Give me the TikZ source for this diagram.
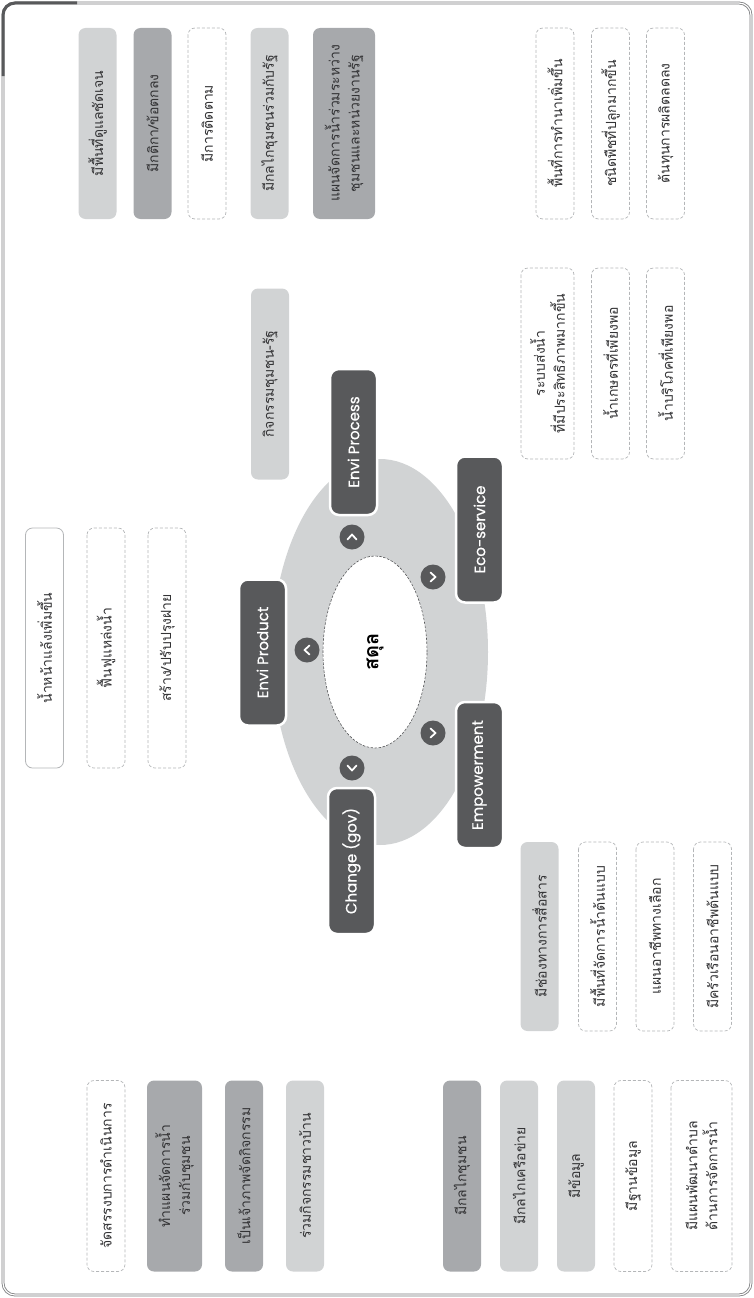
\documentclass[tikz,border=0pt]{standalone}
\usepackage{fontspec}
\usetikzlibrary{shapes.geometric}
\newfontfamily\thaifont[Script=Thai]{Loma}
\newfontfamily\enfont[FakeBold=0.6]{Poppins}
\definecolor{lgray}{HTML}{D1D3D4}
\definecolor{mgray}{HTML}{A7A9AC}
\definecolor{dkgray}{HTML}{58595B}
\definecolor{txt}{HTML}{333335}
\definecolor{dline}{HTML}{B4B6B8}
\definecolor{framec}{HTML}{7A7B7D}
\tikzset{
  basebox/.style={rotate=90, rounded corners=7pt, minimum width=191pt, minimum height=38pt, inner sep=0pt, align=center, text=txt, font=\thaifont\fontsize{14}{20}\selectfont},
  lbox/.style={basebox, fill=lgray},
  mbox/.style={basebox, fill=mgray},
  dbox/.style={basebox, fill=white, draw=dline, line width=0.7pt, dash pattern=on 3pt off 2pt},
  sbox/.style={basebox, fill=white, draw=dline, line width=0.8pt},
  enode/.style={rotate=90, rounded corners=9pt, fill=dkgray, draw=white, line width=2.5pt, minimum width=146pt, minimum height=47pt, inner sep=0pt, text=white, font=\enfont\fontsize{15}{18}\selectfont},
  chev/.style={circle, fill=dkgray, minimum size=25pt, inner sep=0pt},
  chevline/.style={white, line width=1.8pt, line cap=round, line join=round},
}
\begin{document}
\begin{tikzpicture}[x=1pt, y=-1pt]
\useasboundingbox (0,0) rectangle (754,1298);
% frame
\draw[framec, line width=0.8pt, double=white, double distance=1.2pt, rounded corners=12pt] (3,3) rectangle (751,1295);
\draw[dkgray, line width=3pt] (3,76) -- (3,15) arc[start angle=180, end angle=270, radius=12] -- (77,3);

% top-left column group
\node[lbox] (b1) at (97.5,123.5) {มีพื้นที่ดูแลชัดเจน};
\node[mbox] (b2) at (152.5,123.5) {มีกติกา/ข้อตกลง};
\node[dbox] (b3) at (207,123.5) {มีการติดตาม};
\node[lbox] (b4) at (269.5,123.5) {มีกลไกชุมชนร่วมกับรัฐ};
\node[mbox, minimum height=62pt] (b5) at (344,123.5) {แผนจัดการน้ำร่วมระหว่าง\\ชุมชนและหน่วยงานรัฐ};
\node[lbox] (b6) at (270,384) {กิจกรรมชุมชน-รัฐ};

% top-right
\node[dbox] (r1) at (555,123.5) {พื้นที่การทำนาเพิ่มขึ้น};
\node[dbox] (r2) at (610.5,123.5) {ชนิดพืชที่ปลูกมากขึ้น};
\node[dbox] (r3) at (665.5,123.5) {ต้นทุนการผลิตลดลง};
\node[dbox, minimum height=53pt] (r4) at (547.5,363.5) {ระบบส่งน้ำ\\ที่มีประสิทธิภาพมากขึ้น};
\node[dbox] (r5) at (610.5,363.5) {น้ำเกษตรที่เพียงพอ};
\node[dbox] (r6) at (665.5,363.5) {น้ำบริโภคที่เพียงพอ};

% left middle
\node[sbox, minimum width=240pt] (m1) at (44.5,648) {น้ำหน้าแล้งเพิ่มขึ้น};
\node[dbox, minimum width=240pt] (m2) at (106,648) {ฟื้นฟูแหล่งน้ำ};
\node[dbox, minimum width=240pt] (m3) at (167,648) {สร้าง/ปรับปรุงฝาย};

% right middle
\node[lbox, minimum width=189pt] (p1) at (539.5,936.5) {มีช่องทางการสื่อสาร};
\node[dbox, minimum width=189pt] (p2) at (597.5,936.5) {มีพื้นที่จัดการน้ำต้นแบบ};
\node[dbox, minimum width=189pt] (p3) at (655,936.5) {แผนอาชีพทางเลือก};
\node[dbox, minimum width=189pt] (p4) at (712.5,936.5) {มีครัวเรือนอาชีพต้นแบบ};

% bottom-left
\node[dbox] (q1) at (106,1176) {จัดสรรงบการดำเนินการ};
\node[mbox, minimum height=55pt] (q2) at (174.5,1176) {ทำแผนจัดการน้ำ\\ร่วมกับชุมชน};
\node[mbox] (q3) at (244,1176) {เป็นเจ้าภาพจัดกิจกรรม};
\node[lbox] (q4) at (305,1176) {ร่วมกิจกรรมชาวบ้าน};

% bottom-right
\node[mbox] (s1) at (462,1176) {มีกลไกชุมชน};
\node[lbox] (s2) at (519,1176) {มีกลไกเครือข่าย};
\node[lbox] (s3) at (576,1176) {มีข้อมูล};
\node[dbox] (s4) at (633,1176) {มีฐานข้อมูล};
\node[dbox, minimum height=61pt] (s5) at (701.5,1176) {มีแผนพัฒนาตำบล\\ด้านการจัดการน้ำ};

% center
\node[ellipse, fill=lgray, minimum width=216pt, minimum height=386pt, inner sep=0pt] (outer) at (380,652) {};
\node[ellipse, fill=white, draw=dkgray, line width=0.6pt, dash pattern=on 2.5pt off 1.5pt, minimum width=104pt, minimum height=192pt, inner sep=0pt] (inner) at (375,652) {};
\node[rotate=90, font=\thaifont\bfseries\fontsize{20}{22}\selectfont, text=black] (center) at (inner.center) {สดุล};

\node[enode] (process) at (353.5,442) {Envi Process};
\node[enode] (product) at (262.5,652.5) {Envi Product};
\node[enode] (eco) at (479.5,529.5) {Eco-service};
\node[enode] (emp) at (479.5,775) {Empowerment};
\node[enode] (change) at (351.5,861) {Change (gov)};

% chevrons
\node[chev] (c1) at (352,537) {};
\draw[chevline] ([shift={(-4.5,2.5)}]c1.center) -- ([shift={(0,-2.5)}]c1.center) -- ([shift={(4.5,2.5)}]c1.center);
\node[chev] (c2) at (307,650) {};
\draw[chevline] ([shift={(2.5,-4.5)}]c2.center) -- ([shift={(-2.5,0)}]c2.center) -- ([shift={(2.5,4.5)}]c2.center);
\node[chev] (c3) at (433,577) {};
\draw[chevline] ([shift={(-2.5,-4.5)}]c3.center) -- ([shift={(2.5,0)}]c3.center) -- ([shift={(-2.5,4.5)}]c3.center);
\node[chev] (c4) at (433,733) {};
\draw[chevline] ([shift={(-2.5,-4.5)}]c4.center) -- ([shift={(2.5,0)}]c4.center) -- ([shift={(-2.5,4.5)}]c4.center);
\node[chev] (c5) at (352,768) {};
\draw[chevline] ([shift={(-4.5,-2.5)}]c5.center) -- ([shift={(0,2.5)}]c5.center) -- ([shift={(4.5,-2.5)}]c5.center);
\end{tikzpicture}
\end{document}
